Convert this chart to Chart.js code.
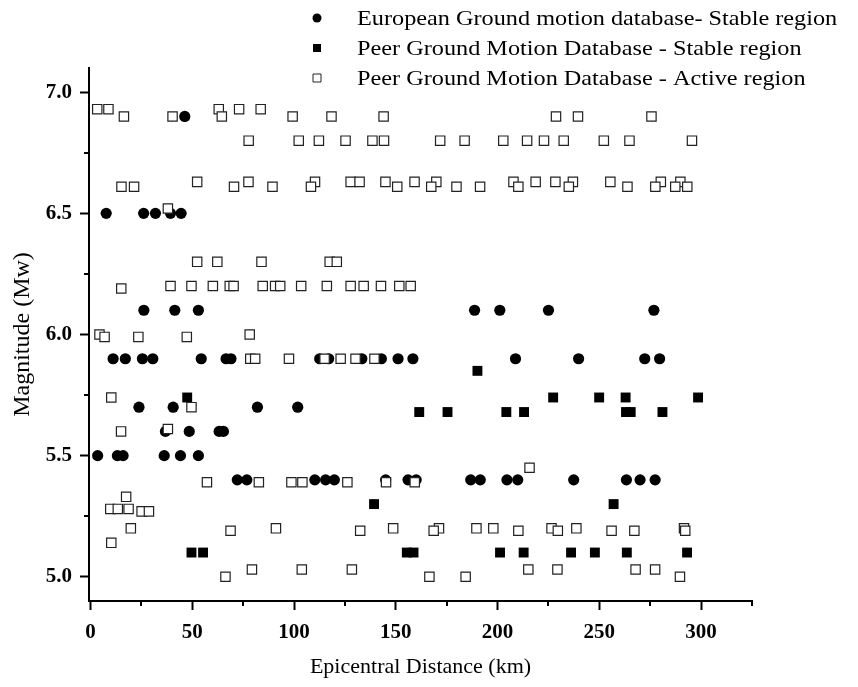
<!DOCTYPE html>
<html>
<head>
<meta charset="utf-8">
<script src="https://cdn.jsdelivr.net/npm/chart.js@4.4.0/dist/chart.umd.min.js"></script>
<style>
  html, body { margin: 0; padding: 0; background: #fff; }
  canvas { display: block; }
</style>
</head>
<body>
<canvas id="chart" width="858" height="687"></canvas>
<script>
// European ground motion database, stable region (distance km / magnitude Mw)
const egmStableKm = [
  46.3,
  7.7, 26.1, 31.9, 39.3, 44.5,
  26.2, 41.4, 53.0, 188.7, 201.1, 225.0, 276.8,
  11.1, 17.1, 25.5, 30.6, 54.4, 66.6, 69.0, 112.6, 117.0, 133.3, 142.9, 151.1, 158.4, 208.8, 239.8, 272.3, 279.6,
  23.8, 40.6, 82.0, 101.8,
  36.8, 48.5, 63.2, 65.3,
  3.5, 13.2, 16.0, 36.2, 44.2, 53.0,
  72.1, 76.8, 110.2, 115.5, 119.8, 145.0, 156.0, 160.0, 186.8, 191.5, 204.6, 209.9, 237.4, 263.3, 270.0, 277.4
];
const egmStableMw = [
  6.9,
  6.5, 6.5, 6.5, 6.5, 6.5,
  6.1, 6.1, 6.1, 6.1, 6.1, 6.1, 6.1,
  5.9, 5.9, 5.9, 5.9, 5.9, 5.9, 5.9, 5.9, 5.9, 5.9, 5.9, 5.9, 5.9, 5.9, 5.9, 5.9, 5.9,
  5.7, 5.7, 5.7, 5.7,
  5.6, 5.6, 5.6, 5.6,
  5.5, 5.5, 5.5, 5.5, 5.5, 5.5,
  5.4, 5.4, 5.4, 5.4, 5.4, 5.4, 5.4, 5.4, 5.4, 5.4, 5.4, 5.4, 5.4, 5.4, 5.4, 5.4
];

// PEER database, stable region
const peerStableKm = [
  190.1,
  47.5, 227.3, 249.9, 262.9, 298.5,
  161.5, 175.4, 204.3, 213.0, 263.1, 265.4, 281.0,
  139.3, 257.0,
  49.6, 55.3, 155.4, 158.7, 201.2, 212.8, 236.1, 247.8, 263.5, 293.1
];
const peerStableMw = [
  5.85,
  5.74, 5.74, 5.74, 5.74, 5.74,
  5.68, 5.68, 5.68, 5.68, 5.68, 5.68, 5.68,
  5.3, 5.3,
  5.1, 5.1, 5.1, 5.1, 5.1, 5.1, 5.1, 5.1, 5.1, 5.1
];

// PEER database, active region
const peerActiveKm = [
  3.3, 8.8, 63.0, 73.0, 83.6,
  16.4, 40.3, 64.5, 99.3, 118.4, 144.0, 228.7, 239.5, 275.6,
  77.7, 102.3, 112.2, 125.3, 138.5, 144.2, 171.8, 183.8, 202.8, 214.5, 222.8, 232.5, 252.2, 264.8, 295.5,
  52.4, 77.6, 110.3, 127.8, 132.2, 144.9, 159.2, 169.9, 207.8, 218.7, 228.4, 237.0, 255.4, 280.2, 289.8,
  15.2, 21.4, 70.5, 89.4, 108.3, 150.7, 167.4, 179.8, 191.4, 210.2, 235.0, 263.8, 277.5, 287.3, 293.2,
  38.0,
  52.4, 62.3, 84.0, 117.5, 121.0,
  39.3, 49.6, 60.1, 68.4, 70.3, 84.6, 90.7, 93.2, 103.5, 116.1, 127.8, 134.2, 142.7, 151.7, 157.3,
  15.1,
  4.4, 78.2,
  6.9, 23.5, 47.3,
  78.5, 80.9, 97.5, 115.0, 122.9, 130.2, 139.5,
  10.2, 49.6, 38.0, 15.0, 215.7,
  57.2, 82.7, 98.7, 104.1, 126.2, 145.2, 159.3,
  17.5,
  9.7, 13.4, 18.7,
  25.1, 28.7,
  19.8, 91.1, 148.7, 171.2, 189.6, 197.9, 226.5, 238.7, 291.6,
  68.8, 132.5, 168.6, 210.2, 229.6, 256.0, 267.2, 292.2,
  10.2,
  79.3, 103.8, 128.4, 215.1, 229.4, 267.8, 277.4,
  66.3, 166.5, 184.3, 289.6
];
const peerActiveMw = [
  6.93, 6.93, 6.93, 6.93, 6.93,
  6.9, 6.9, 6.9, 6.9, 6.9, 6.9, 6.9, 6.9, 6.9,
  6.8, 6.8, 6.8, 6.8, 6.8, 6.8, 6.8, 6.8, 6.8, 6.8, 6.8, 6.8, 6.8, 6.8, 6.8,
  6.63, 6.63, 6.63, 6.63, 6.63, 6.63, 6.63, 6.63, 6.63, 6.63, 6.63, 6.63, 6.63, 6.63, 6.63,
  6.61, 6.61, 6.61, 6.61, 6.61, 6.61, 6.61, 6.61, 6.61, 6.61, 6.61, 6.61, 6.61, 6.61, 6.61,
  6.52,
  6.3, 6.3, 6.3, 6.3, 6.3,
  6.2, 6.2, 6.2, 6.2, 6.2, 6.2, 6.2, 6.2, 6.2, 6.2, 6.2, 6.2, 6.2, 6.2, 6.2,
  6.19,
  6.0, 6.0,
  5.99, 5.99, 5.99,
  5.9, 5.9, 5.9, 5.9, 5.9, 5.9, 5.9,
  5.74, 5.7, 5.61, 5.6, 5.45,
  5.39, 5.39, 5.39, 5.39, 5.39, 5.39, 5.39,
  5.33,
  5.28, 5.28, 5.28,
  5.27, 5.27,
  5.2, 5.2, 5.2, 5.2, 5.2, 5.2, 5.2, 5.2, 5.2,
  5.19, 5.19, 5.19, 5.19, 5.19, 5.19, 5.19, 5.19,
  5.14,
  5.03, 5.03, 5.03, 5.03, 5.03, 5.03, 5.03,
  5.0, 5.0, 5.0, 5.0
];

const seriesNames = [
  'European Ground motion database- Stable region',
  'Peer Ground Motion Database - Stable region',
  'Peer Ground Motion Database - Active region'
];

const xTickValues = [0, 25, 50, 75, 100, 125, 150, 175, 200, 225, 250, 275, 300, 325];
const yTickValues = [5.0, 5.25, 5.5, 5.75, 6.0, 6.25, 6.5, 6.75, 7.0];

const FONT = "'Liberation Serif', 'Times New Roman', serif";

function pairUp(xs, ys) {
  return xs.map((x, i) => ({ x: x, y: ys[i] }));
}

const isMajorX = v => v % 50 === 0 && v <= 300;
const isMajorY = v => Math.abs(v * 2 - Math.round(v * 2)) < 1e-9;

// short outward ticks for the unlabelled positions
const minorTicks = {
  id: 'minorTicks',
  afterDraw(chart) {
    const ctx = chart.ctx;
    const xs = chart.scales.x, ys = chart.scales.y;
    const area = chart.chartArea;
    ctx.save();
    ctx.strokeStyle = '#000';
    ctx.lineWidth = 2;
    ctx.beginPath();
    xTickValues.filter(v => !isMajorX(v)).forEach(v => {
      const px = Math.round(xs.getPixelForValue(v));
      ctx.moveTo(px, area.bottom);
      ctx.lineTo(px, area.bottom + 5);
    });
    yTickValues.filter(v => !isMajorY(v)).forEach(v => {
      const py = Math.round(ys.getPixelForValue(v));
      ctx.moveTo(area.left, py);
      ctx.lineTo(area.left - 5, py);
    });
    ctx.stroke();
    ctx.restore();
  }
};

// legend block in the top right corner
const markerLegend = {
  id: 'markerLegend',
  afterDraw(chart) {
    const ctx = chart.ctx;
    const markerX = 317, textX = 357, firstY = 18, rowGap = 30;
    ctx.save();
    chart.data.datasets.forEach((ds, i) => {
      const y = firstY + i * rowGap;
      ctx.beginPath();
      if (ds.pointStyle === 'circle') {
        ctx.arc(markerX, y, 4.5, 0, Math.PI * 2);
      } else {
        ctx.rect(markerX - 4, y - 4, 8, 8);
      }
      ctx.fillStyle = ds.backgroundColor;
      ctx.fill();
      if (ds.borderWidth) {
        ctx.lineWidth = 1;
        ctx.strokeStyle = ds.borderColor;
        ctx.stroke();
      }
      ctx.save();
      ctx.translate(textX, y);
      ctx.scale(1.155, 1);
      ctx.font = '21px ' + FONT;
      ctx.fillStyle = '#000';
      ctx.textAlign = 'left';
      ctx.textBaseline = 'middle';
      ctx.fillText(ds.label, 0, 1);
      ctx.restore();
    });
    ctx.restore();
  }
};

new Chart(document.getElementById('chart'), {
  type: 'scatter',
  data: {
    datasets: [
      {
        label: seriesNames[0],
        data: pairUp(egmStableKm, egmStableMw),
        pointStyle: 'circle',
        pointRadius: 5.6,
        backgroundColor: '#000',
        borderWidth: 0,
        order: 3
      },
      {
        label: seriesNames[1],
        data: pairUp(peerStableKm, peerStableMw),
        pointStyle: 'rect',
        pointRadius: 7,
        backgroundColor: '#000',
        borderWidth: 0,
        order: 2
      },
      {
        label: seriesNames[2],
        data: pairUp(peerActiveKm, peerActiveMw),
        pointStyle: 'rect',
        pointRadius: 6.6,
        backgroundColor: '#fff',
        borderColor: '#222',
        borderWidth: 1.2,
        order: 1
      }
    ]
  },
  options: {
    responsive: false,
    animation: false,
    devicePixelRatio: 1,
    layout: { padding: { top: 68, right: 106, left: 0, bottom: 0 } },
    plugins: {
      legend: { display: false },
      tooltip: { enabled: false }
    },
    scales: {
      x: {
        type: 'linear',
        min: -0.75,
        max: 325,
        afterBuildTicks: s => { s.ticks = xTickValues.map(v => ({ value: v })); },
        afterFit: s => { s.height = 86; },
        border: { display: true, color: '#000', width: 2 },
        grid: {
          display: true,
          drawOnChartArea: false,
          drawTicks: true,
          tickLength: 9,
          tickWidth: 2,
          tickColor: c => (c.tick && isMajorX(c.tick.value)) ? '#000' : 'rgba(0,0,0,0)'
        },
        ticks: {
          autoSkip: false,
          maxRotation: 0,
          padding: 10,
          color: '#000',
          font: { family: FONT, size: 21, weight: 'bold' },
          callback: v => isMajorX(v) ? String(v) : ''
        },
        title: {
          display: true,
          text: 'Epicentral Distance (km)',
          color: '#000',
          font: { family: FONT, size: 22 },
          padding: { top: 0, bottom: 7 }
        }
      },
      y: {
        type: 'linear',
        min: 4.9,
        max: 7.1,
        afterBuildTicks: s => { s.ticks = yTickValues.map(v => ({ value: v })); },
        afterFit: s => { s.width = 89; },
        border: { display: true, color: '#000', width: 2 },
        grid: {
          display: true,
          drawOnChartArea: false,
          drawTicks: true,
          tickLength: 9,
          tickWidth: 2,
          tickColor: c => (c.tick && isMajorY(c.tick.value)) ? '#000' : 'rgba(0,0,0,0)'
        },
        ticks: {
          autoSkip: false,
          padding: 8,
          color: '#000',
          font: { family: FONT, size: 21, weight: 'bold' },
          callback: v => isMajorY(v) ? v.toFixed(1) : ''
        },
        title: {
          display: true,
          text: 'Magnitude (Mw)',
          color: '#000',
          font: { family: FONT, size: 24 },
          padding: { top: 8, bottom: 0 }
        }
      }
    }
  },
  plugins: [minorTicks, markerLegend]
});
</script>
</body>
</html>
